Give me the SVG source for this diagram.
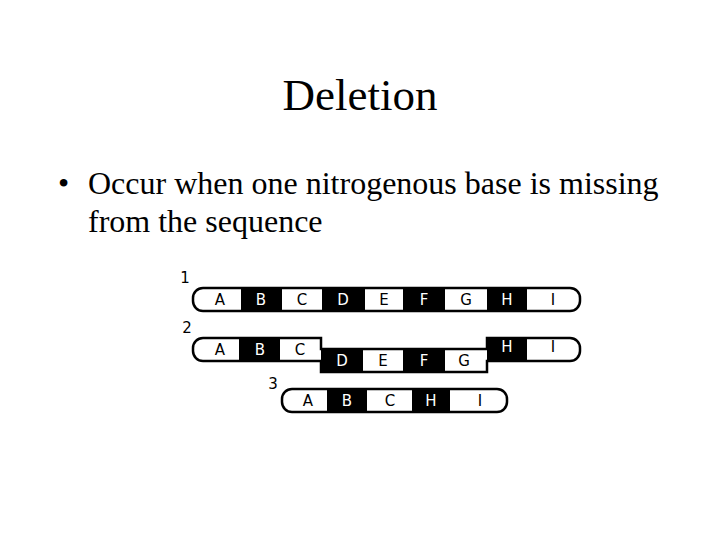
<svg xmlns="http://www.w3.org/2000/svg" width="720" height="540" viewBox="0 0 720 540">
<style>
.t{font-family:"Liberation Serif",serif;fill:#000}
.l{font-family:"DejaVu Sans","Liberation Sans",sans-serif;font-size:15px;text-anchor:middle}
.w{fill:#fff}.k{fill:#000}.wt{fill:#000}.kt{fill:#fff}
.o{fill:none;stroke:#000;stroke-width:2.5}
</style>
<rect width="720" height="540" fill="#fff"/>
<text class="t" x="360" y="110" font-size="45" text-anchor="middle">Deletion</text>
<text class="t" x="58" y="194" font-size="32">•</text>
<text class="t" x="88" y="194" font-size="32">Occur when one nitrogenous base is missing</text>
<text class="t" x="88" y="232" font-size="32">from the sequence</text>
<g id="row1">
<text class="l" x="185" y="283" font-size="14">1</text>
<rect class="k" x="241" y="288" width="41" height="23"/>
<rect class="k" x="322" y="288" width="43" height="23"/>
<rect class="k" x="403" y="288" width="42" height="23"/>
<rect class="k" x="487" y="288" width="40" height="23"/>
<rect class="o" x="193" y="288" width="387" height="23" rx="10"/>
<text class="l wt" x="220" y="305">A</text><text class="l kt" x="261" y="305">B</text><text class="l wt" x="302" y="305">C</text><text class="l kt" x="343" y="305">D</text><text class="l wt" x="384" y="305">E</text><text class="l kt" x="424" y="305">F</text><text class="l wt" x="466" y="305">G</text><text class="l kt" x="507" y="305">H</text><text class="l wt" x="553" y="305">I</text>
</g>
<g id="row2">
<text class="l" x="187" y="333" font-size="14">2</text>
<rect class="k" x="239" y="338" width="41" height="23"/>
<rect class="k" x="321" y="349" width="42" height="23"/>
<rect class="k" x="403" y="349" width="42" height="23"/>
<rect class="k" x="487" y="338" width="40" height="23"/>
<path class="o" d="M203 338 H321 V349 H487 V338 H570 A10 10 0 0 1 580 348 V351 A10 10 0 0 1 570 361 H487 V372 H321 V361 H203 A10 10 0 0 1 193 351 V348 A10 10 0 0 1 203 338 Z"/>
<text class="l wt" x="220" y="355">A</text><text class="l kt" x="260" y="355">B</text><text class="l wt" x="300" y="355">C</text><text class="l kt" x="342" y="366">D</text><text class="l wt" x="383" y="366">E</text><text class="l kt" x="424" y="366">F</text><text class="l wt" x="464" y="366">G</text><text class="l kt" x="507" y="352">H</text><text class="l wt" x="553" y="352">I</text>
</g>
<g id="row3">
<text class="l" x="273" y="389" font-size="14">3</text>
<rect class="k" x="327" y="389" width="40" height="23"/>
<rect class="k" x="412" y="389" width="38" height="23"/>
<rect class="o" x="282" y="389" width="225" height="23" rx="10"/>
<text class="l wt" x="308" y="406">A</text><text class="l kt" x="347" y="406">B</text><text class="l wt" x="390" y="406">C</text><text class="l kt" x="431" y="406">H</text><text class="l wt" x="480" y="406">I</text>
</g>
<g id="connectors"/>
</svg>
